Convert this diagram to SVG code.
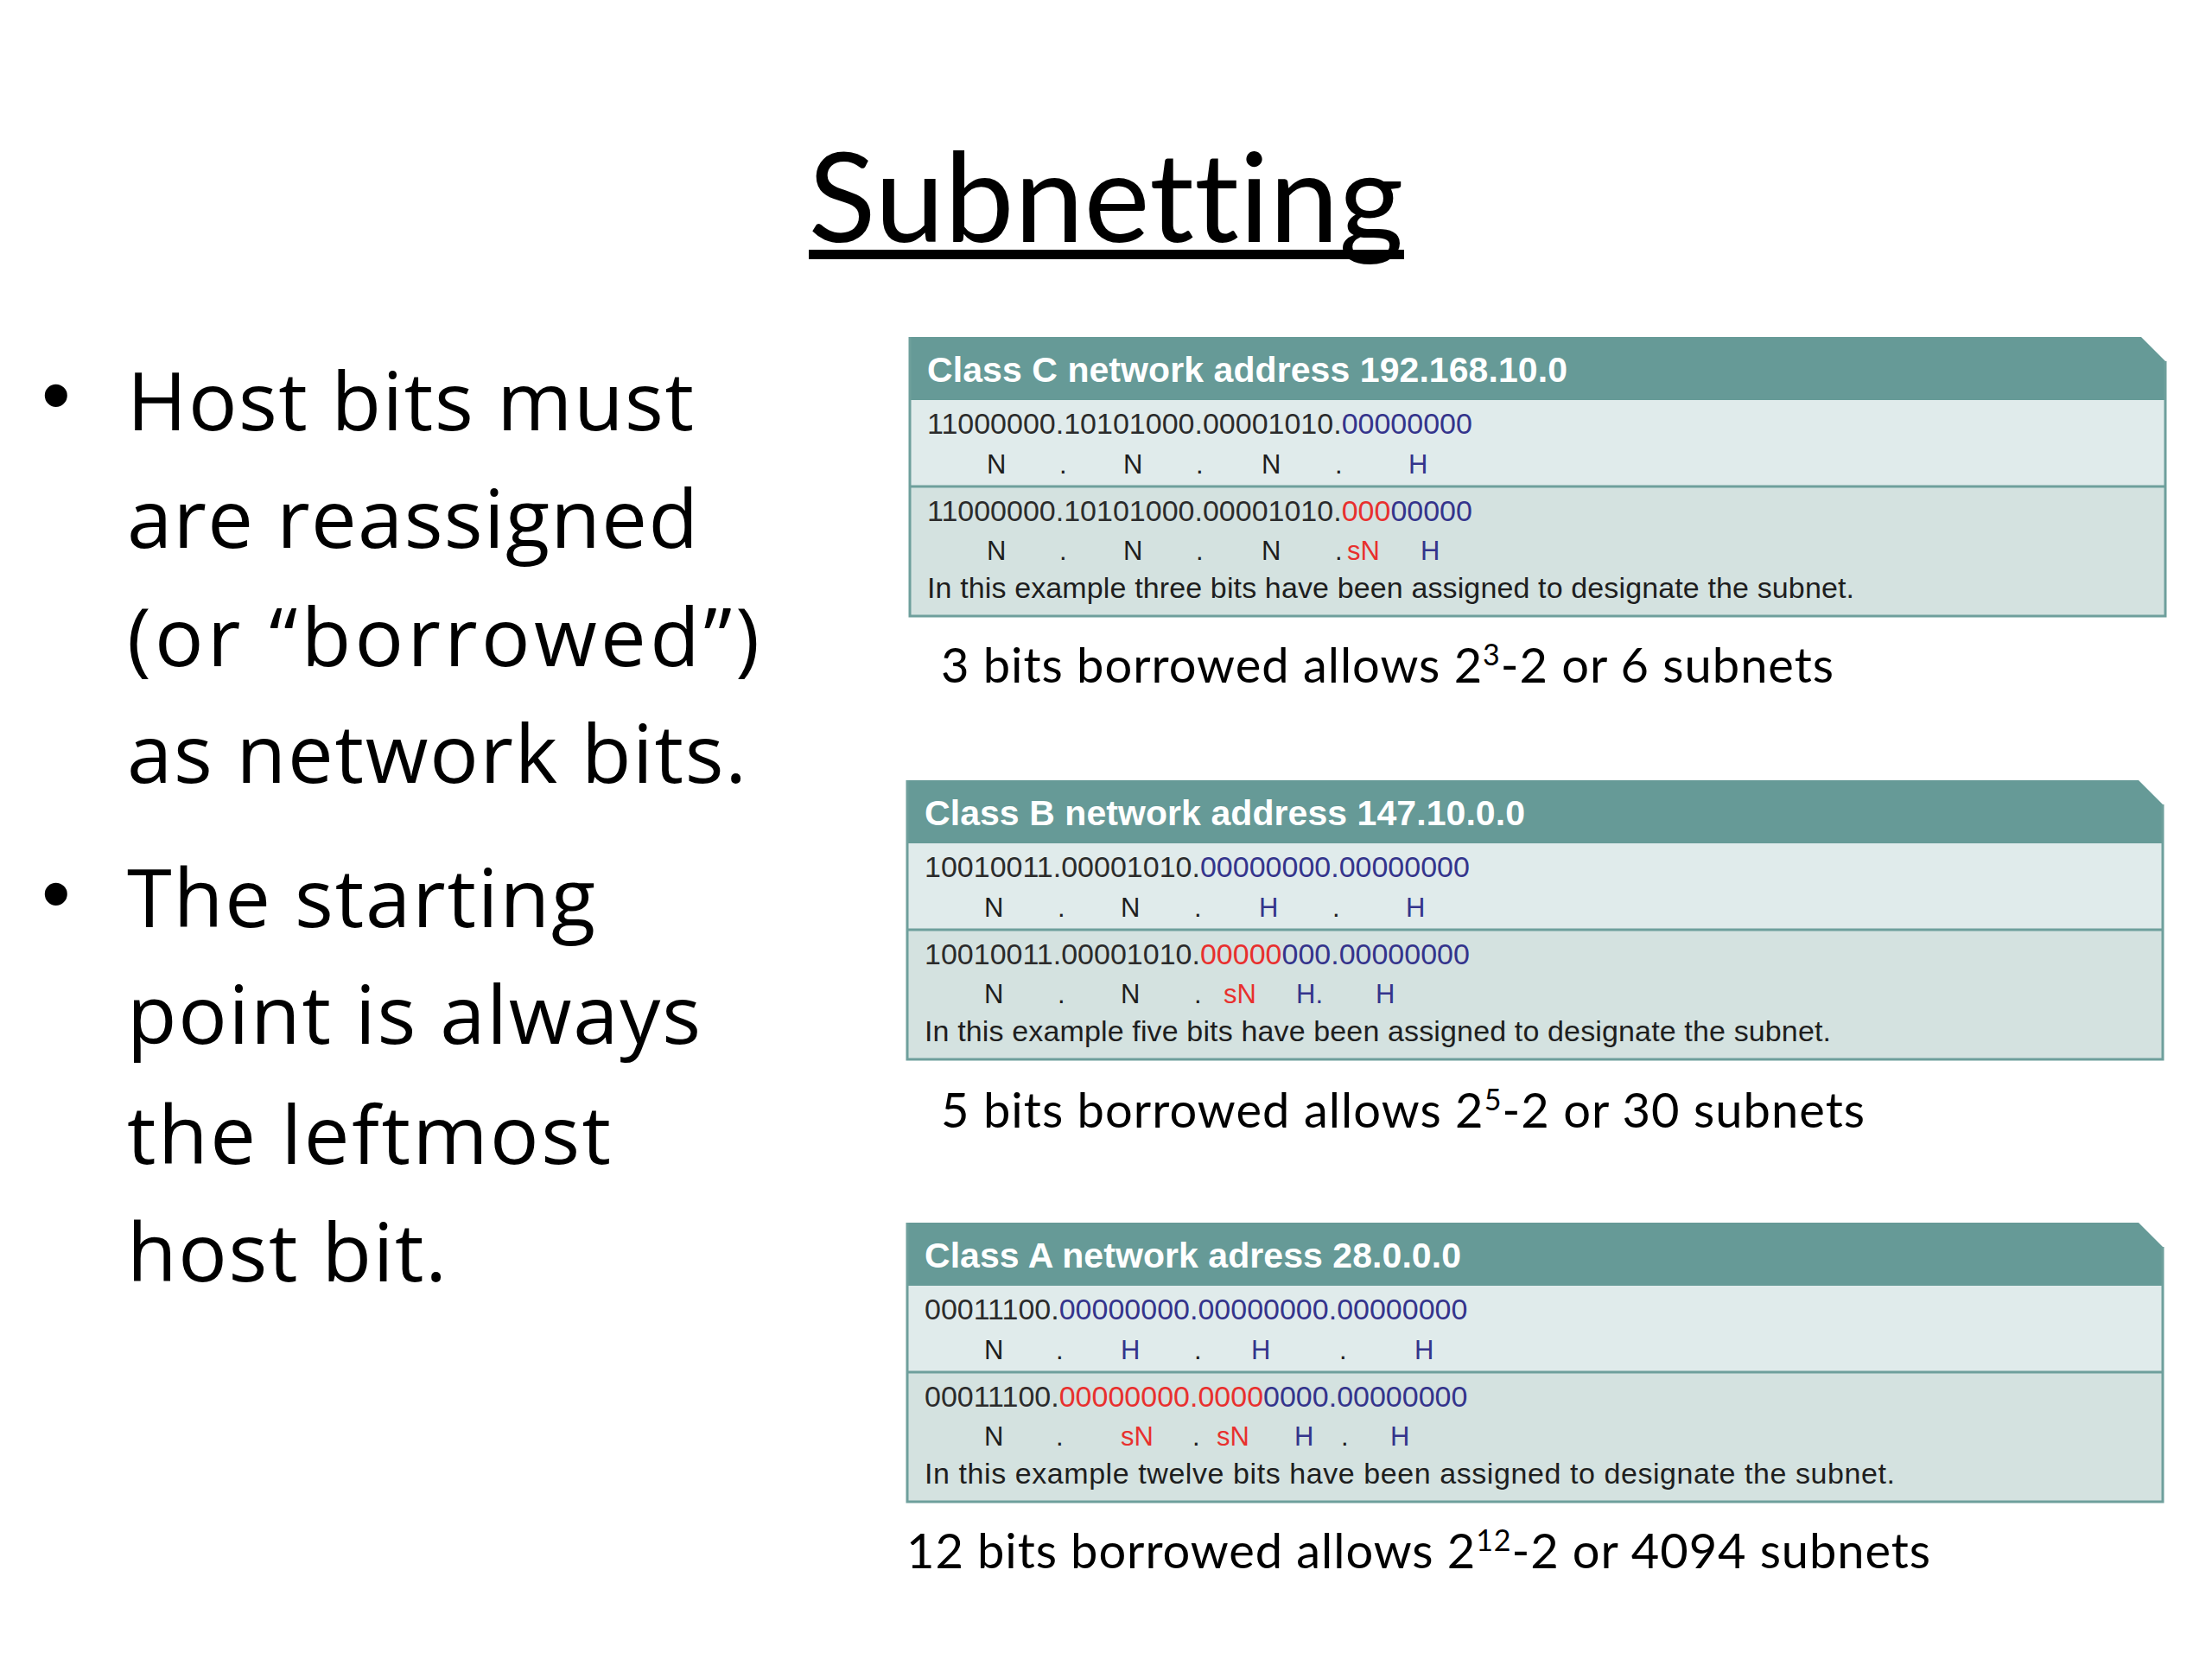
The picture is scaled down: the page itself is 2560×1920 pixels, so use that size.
<svg xmlns="http://www.w3.org/2000/svg" width="2560" height="1920" viewBox="0 0 2560 1920">
<style>
text{font-variant-ligatures:none}
.cal{font-family:Lato,"Open Sans","Liberation Sans",sans-serif;fill:#000}
.os{font-family:"Open Sans",Lato,"Liberation Sans",sans-serif;fill:#000}
.title{font-size:144px}
.bul{font-size:94px}
.cap{font-size:56px}
.ar{font-family:"Liberation Sans",Arial,sans-serif}
.hdr{font-size:41px;font-weight:bold;fill:#ffffff}
.bin{font-size:34px;fill:#2b2b2b}
.lab{font-size:31px;fill:#1e1e1e}
.exp{font-size:34px;fill:#1e1e1e}
.bl{fill:#34348c}
.rd{fill:#e8302e}
.hfill{fill:#669a97}
.r1{fill:#e0ebeb}
.r2{fill:#d4e2e0}
.ln{stroke:#6e9f9c;stroke-width:3;fill:none}
</style>
<defs>
<g id="boxShape">
<rect class="r1" x="0" y="73" width="1453" height="100"/>
<rect class="r2" x="0" y="173" width="1453" height="150"/>
<path class="hfill" d="M0,0 H1425 L1453,28 V73 H0 Z"/>
<line class="ln" x1="0" y1="173" x2="1453" y2="173"/>
<path class="ln" d="M0,0 V323 H1453 V28"/>
</g>
</defs>
<rect width="2560" height="1920" fill="#ffffff"/>

<g id="title">
<text class="cal title" x="1280" y="280" text-anchor="middle" textLength="689">Subnetting</text>
<rect x="936" y="289" width="689" height="11" fill="#000"/>
</g>

<g id="bullets">
<text class="ar" x="48" y="490" font-size="96">•</text>
<text class="os bul" x="147" y="498" textLength="656">Host bits must</text>
<text class="os bul" x="147" y="634" textLength="661">are reassigned</text>
<text class="os bul" x="147" y="771" textLength="732">(or “borrowed”)</text>
<text class="os bul" x="147" y="906" textLength="717">as network bits.</text>
<text class="ar" x="48" y="1067" font-size="96">•</text>
<text class="os bul" x="147" y="1073" textLength="542">The starting</text>
<text class="os bul" x="147" y="1208" textLength="664">point is always</text>
<text class="os bul" x="147" y="1347" textLength="560">the leftmost</text>
<text class="os bul" x="147" y="1483" textLength="370">host bit.</text>
</g>

<g id="classC" transform="translate(1053,390)">
<use href="#boxShape"/>
<text class="ar hdr" x="20" y="52" textLength="741">Class C network address 192.168.10.0</text>
<text class="ar bin" x="20" y="112">11000000.10101000.00001010.<tspan class="bl">00000000</tspan></text>
<text class="ar lab" y="158"><tspan x="89">N</tspan><tspan x="173">.</tspan><tspan x="247">N</tspan><tspan x="331">.</tspan><tspan x="407">N</tspan><tspan x="492">.</tspan><tspan x="577" class="bl">H</tspan></text>
<text class="ar bin" x="20" y="213">11000000.10101000.00001010.<tspan class="rd">000</tspan><tspan class="bl">00000</tspan></text>
<text class="ar lab" y="258"><tspan x="89">N</tspan><tspan x="173">.</tspan><tspan x="247">N</tspan><tspan x="331">.</tspan><tspan x="407">N</tspan><tspan x="492">.</tspan><tspan x="506" class="rd">sN</tspan><tspan x="591" class="bl">H</tspan></text>
<text class="ar exp" x="20" y="302" textLength="1073">In this example three bits have been assigned to designate the subnet.</text>
</g>
<g id="captionC">
<text class="cal cap" x="1089" y="790" textLength="1033">3 bits borrowed allows 2<tspan font-size="34" dy="-20">3</tspan><tspan dy="20">-2 or 6 subnets</tspan></text>
</g>

<g id="classB" transform="translate(1050,903)">
<use href="#boxShape"/>
<text class="ar hdr" x="20" y="52" textLength="695">Class B network address 147.10.0.0</text>
<text class="ar bin" x="20" y="112">10010011.00001010.<tspan class="bl">00000000.00000000</tspan></text>
<text class="ar lab" y="158"><tspan x="89">N</tspan><tspan x="174">.</tspan><tspan x="247">N</tspan><tspan x="332">.</tspan><tspan x="407" class="bl">H</tspan><tspan x="492">.</tspan><tspan x="577" class="bl">H</tspan></text>
<text class="ar bin" x="20" y="213">10010011.00001010.<tspan class="rd">00000</tspan><tspan class="bl">000.00000000</tspan></text>
<text class="ar lab" y="258"><tspan x="89">N</tspan><tspan x="174">.</tspan><tspan x="247">N</tspan><tspan x="332">.</tspan><tspan x="366" class="rd">sN</tspan><tspan x="450" class="bl">H.</tspan><tspan x="542" class="bl">H</tspan></text>
<text class="ar exp" x="20" y="302" textLength="1049">In this example five bits have been assigned to designate the subnet.</text>
</g>
<g id="captionB">
<text class="cal cap" x="1089" y="1305" textLength="1069">5 bits borrowed allows 2<tspan font-size="34" dy="-20">5</tspan><tspan dy="20">-2 or 30 subnets</tspan></text>
</g>

<g id="classA" transform="translate(1050,1415)">
<use href="#boxShape"/>
<text class="ar hdr" x="20" y="52" textLength="621">Class A network adress 28.0.0.0</text>
<text class="ar bin" x="20" y="112">00011100.<tspan class="bl">00000000.00000000.00000000</tspan></text>
<text class="ar lab" y="158"><tspan x="89">N</tspan><tspan x="172">.</tspan><tspan x="247" class="bl">H</tspan><tspan x="332">.</tspan><tspan x="398" class="bl">H</tspan><tspan x="500">.</tspan><tspan x="587" class="bl">H</tspan></text>
<text class="ar bin" x="20" y="213">00011100.<tspan class="rd">00000000.0000</tspan><tspan class="bl">0000.00000000</tspan></text>
<text class="ar lab" y="258"><tspan x="89">N</tspan><tspan x="172">.</tspan><tspan x="247" class="rd">sN</tspan><tspan x="330">.</tspan><tspan x="358" class="rd">sN</tspan><tspan x="448" class="bl">H</tspan><tspan x="502">.</tspan><tspan x="559" class="bl">H</tspan></text>
<text class="ar exp" x="20" y="302" textLength="1123">In this example twelve bits have been assigned to designate the subnet.</text>
</g>
<g id="captionA">
<text class="cal cap" x="1049" y="1815" textLength="1185">12 bits borrowed allows 2<tspan font-size="34" dy="-20">12</tspan><tspan dy="20">-2 or 4094 subnets</tspan></text>
</g>
</svg>
